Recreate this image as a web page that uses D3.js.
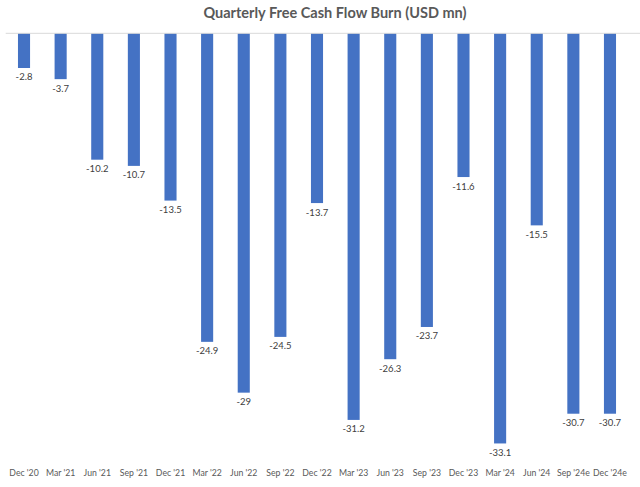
<!DOCTYPE html>
<html><head><meta charset="utf-8">
<script src="https://cdn.jsdelivr.net/npm/d3@7/dist/d3.min.js"></script>
<style>body{margin:0;background:#fff;} svg{display:block;}</style>
</head><body>
<svg id="chart" width="640" height="487"></svg>
<script>
const categories = ["Dec '20","Mar '21","Jun '21","Sep '21","Dec '21","Mar '22","Jun '22","Sep '22","Dec '22","Mar '23","Jun '23","Sep '23","Dec '23","Mar '24","Jun '24","Sep '24e","Dec '24e"];
const values = [-2.8,-3.7,-10.2,-10.7,-13.5,-24.9,-29,-24.5,-13.7,-31.2,-26.3,-23.7,-11.6,-33.1,-15.5,-30.7,-30.7];
const labels = ["-2.8","-3.7","-10.2","-10.7","-13.5","-24.9","-29","-24.5","-13.7","-31.2","-26.3","-23.7","-11.6","-33.1","-15.5","-30.7","-30.7"];
const title = "Quarterly Free Cash Flow Burn (USD mn)";

const svg = d3.select("#chart");
const font = "Lato, 'Liberation Sans', sans-serif";
const x = d3.scaleBand().domain(categories).range([5.7, 628.3]).paddingInner(0.67).paddingOuter(0.335);
const y = d3.scaleLinear().domain([0, -35]).range([33.3, 467]);

svg.append("text").attr("x", 335).attr("y", 18).attr("text-anchor", "middle")
  .attr("font-family", font).attr("font-weight", "bold").attr("font-size", 14.5)
  .attr("fill", "#595959").text(title);

svg.append("g").selectAll("rect").data(values).join("rect")
  .attr("x", (d,i) => x(categories[i]))
  .attr("width", x.bandwidth())
  .attr("y", y(0))
  .attr("height", d => y(d) - y(0))
  .attr("fill", "#4472C4");

svg.append("line").attr("x1", 5.7).attr("x2", 640).attr("y1", y(0)).attr("y2", y(0))
  .attr("stroke", "#d9d9d9").attr("stroke-width", 1);

svg.append("g").selectAll("text").data(values).join("text")
  .attr("x", (d,i) => x(categories[i]) + x.bandwidth()/2)
  .attr("y", d => y(d) + 12.5)
  .attr("text-anchor", "middle")
  .attr("font-family", font).attr("font-size", 9.5).attr("fill", "#404040")
  .text((d,i) => labels[i]);

const xAxis = d3.axisBottom(x).tickSize(0).tickPadding(0);
const gx = svg.append("g").attr("transform", "translate(0,470)").call(xAxis);
gx.select(".domain").remove();
gx.selectAll("text").attr("font-family", font).attr("font-size", 8.7).attr("fill", "#595959");
</script>
</body></html>
